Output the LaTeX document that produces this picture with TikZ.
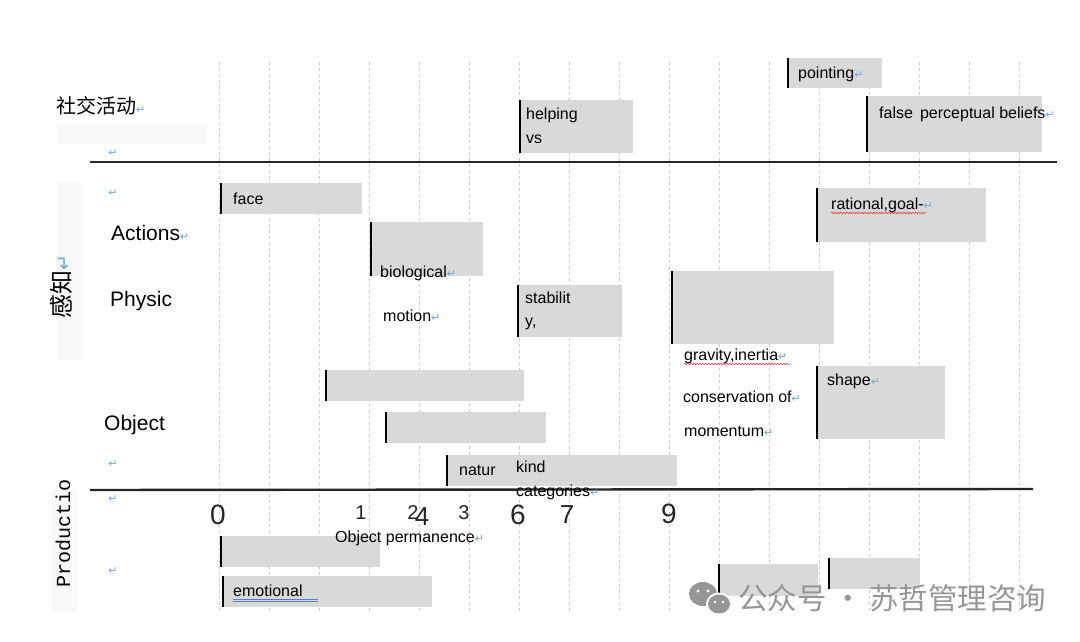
\documentclass[tikz,border=0pt]{standalone}
\usepackage{fontspec}
\setmainfont{Liberation Sans}
\newfontfamily\cjk{Noto Sans CJK SC}
\newfontfamily\dejavu{DejaVu Sans}
\newfontfamily\monofnt{Liberation Mono}
\usetikzlibrary{decorations.pathmorphing}
\definecolor{boxgray}{RGB}{217,217,217}
\definecolor{retblue}{RGB}{110,165,240}
\definecolor{ulblue}{RGB}{80,125,220}
\definecolor{wmgray}{RGB}{150,150,150}
\definecolor{faint}{RGB}{248,248,248}
\newcommand\rmark{{\dejavu\fontsize{11}{11}\selectfont\color{retblue}↵}}
\newcommand\gb[5]{%
  \node[gbox, minimum width={#4-#2}, minimum height={#5-#3}] (#1) at (#2,#3) {};
  \draw[bar] (#1.north west) -- (#1.south west);}
\begin{document}
\begin{tikzpicture}[x=1pt,y=-1pt,
  gbox/.style={fill=boxgray, draw=none, anchor=north west, inner sep=0pt},
  bar/.style={line width=2.8pt, black},
  gridline/.style={gray!40, line width=0.6pt, dash pattern=on 3pt off 3pt},
  axisline/.style={line width=2.4pt, black!85},
  lbl/.style={anchor=base west, inner sep=0pt, font=\fontsize{16}{16}\selectfont},
  big/.style={anchor=base west, inner sep=0pt, font=\fontsize{21}{21}\selectfont},
  num/.style={inner sep=0pt, font=\fontsize{28}{28}\selectfont, black!85},
  snum/.style={inner sep=0pt, font=\fontsize{20}{20}\selectfont, black!85},
  ret/.style={inner sep=0pt},
  wavy/.style={red!80, line width=0.5pt, decorate, decoration={snake, amplitude=0.9pt, segment length=3pt}}]
\useasboundingbox[fill=white] (0,0) rectangle (1080,642);

% faint backgrounds
\fill[faint] (57,125) rectangle (207,144);
\fill[faint] (57,182) rectangle (82,360);
\fill[faint] (52,490) rectangle (78,612);

% grid
\foreach \i in {0,...,16} \draw[gridline] (219+50*\i,62) -- (219+50*\i,612);

% horizontal lines
\coordinate (topL) at (90,162); \coordinate (topR) at (1057,162);
\coordinate (botL) at (90,490); \coordinate (botR) at (1033,489);
\draw[axisline] (topL) -- (topR);

% boxes
\gb{pointing}{788}{58}{882}{88}
\gb{falseb}{867}{96}{1042}{152}
\gb{helping}{520}{100}{633}{153}
\gb{face}{221}{183}{362}{214}
\gb{bio}{371}{222}{483}{276}
\gb{stab}{518}{285}{622}{337}
\gb{grav}{672}{271}{834}{344}
\gb{rational}{817}{188}{986}{242}
\gb{shape}{817}{366}{945}{439}
\gb{objA}{326}{370}{524}{401}
\gb{objB}{386}{412}{546}{443}
\gb{natur}{447}{455}{677}{486}
\gb{prodA}{221}{536}{380}{567}
\gb{emot}{223}{576}{432}{607}
\gb{brA}{719}{564}{818}{596}
\gb{brB}{829}{558}{920}{589}

\draw[axisline] (botL) -- (botR);

% left labels
\node[anchor=west, inner sep=0pt, font=\cjk\fontsize{20}{20}\selectfont] (social) at (56,106) {社交活动\rmark};
\node[big] (actions) at (111,240) {Actions\rmark};
\node[big] (physic) at (110,306) {Physic};
\node[big] (object) at (104,430) {Object};
\node[rotate=90, inner sep=0pt, font=\cjk\fontsize{24}{24}\selectfont] (ganzhi) at (61,287) {感知{\dejavu\fontsize{19}{19}\selectfont\color{retblue}↵}};
\node[rotate=90, inner sep=0pt, font=\monofnt\fontsize{20}{20}\selectfont] (prod) at (63,533) {Productio};
\node[ret] (r1) at (113,153) {\rmark};
\node[ret] (r2) at (113,193) {\rmark};
\node[ret] (r3) at (113,464) {\rmark};
\node[ret] (r4) at (113,499) {\rmark};
\node[ret] (r5) at (113,571) {\rmark};

% box texts
\node[lbl] (tpoint) at (798,78) {pointing\rmark};
\node[lbl] (tfalse) at (879,118) {false\, perceptual beliefs\rmark};
\node[lbl] (thelp) at (526,120) {helping};
\node[lbl] (tvs) at (526,143) {vs};
\node[lbl] (tface) at (233,204) {face};
\node[lbl] (tbio) at (380,277) {biological\rmark};
\node[lbl] (tmotion) at (383,321) {motion\rmark};
\node[lbl] (tstab) at (525,303) {stabilit};
\node[lbl] (ty) at (525,326) {y,};
\node[lbl] (trat) at (831,209) {rational,goal-\rmark};
\node[lbl] (tgrav) at (684,360) {gravity,inertia\rmark};
\node[lbl] (tcons) at (683,402) {conservation of\rmark};
\node[lbl] (tmom) at (684,436) {momentum\rmark};
\node[lbl] (tshape) at (827,385) {shape\rmark};
\node[lbl] (tnatur) at (459,475) {natur};
\node[lbl] (tkind) at (516,472) {kind};
\node[lbl] (tcat) at (516,496) {categories\rmark};
\node[lbl] (tobjp) at (335,542) {Object permanence\rmark};
\node[lbl] (temot) at (233,596) {emotional};

% wavy / double underlines
\draw[wavy] (831,213) -- (926,213);
\draw[wavy] (684,364) -- (790,364);
\draw[ulblue, line width=0.9pt] (233,599) -- (318,599);
\draw[ulblue, line width=0.9pt] (233,601.8) -- (318,601.8);

% axis numbers
\node[num] (n0) at (218,515) {0};
\node[snum] (n1) at (361,513) {1};
\node[snum] (n2) at (413,513) {2};
\node[num, font=\fontsize{26}{26}\selectfont] (n4) at (422,517) {4};
\node[snum] (n3) at (464,513) {3};
\node[num] (n6) at (518,515) {6};
\node[num, font=\fontsize{26}{26}\selectfont] (n7) at (567,515) {7};
\node[num] (n9) at (669,514) {9};

% watermark
\fill[wmgray] (703,594) ellipse (14 and 12);
\fill[white] (719,604) ellipse (13 and 11.5);
\fill[wmgray] (719,604) ellipse (11 and 9.5);
\fill[white] (698,591) circle (1.6); \fill[white] (708,591) circle (1.6);
\fill[white] (715,602) circle (1.4); \fill[white] (723,602) circle (1.4);
\node[anchor=west, inner sep=0pt, text=wmgray, font=\cjk\fontsize{29.5}{29.5}\selectfont] (wm) at (738,598) {公众号 · 苏哲管理咨询};
\end{tikzpicture}
\end{document}
